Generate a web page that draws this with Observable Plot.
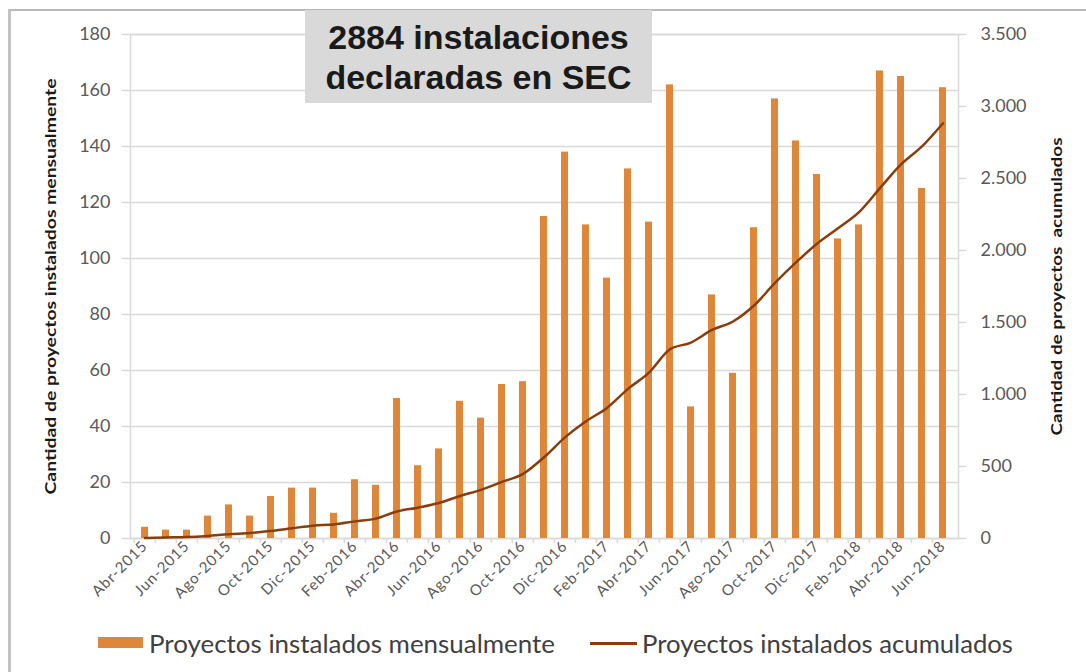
<!DOCTYPE html>
<html>
<head>
<meta charset="utf-8">
<script src="https://cdn.jsdelivr.net/npm/d3@7"></script>
<script src="https://cdn.jsdelivr.net/npm/@observablehq/plot@0.6"></script>
<style>
  html, body { margin: 0; padding: 0; background: #fff; }
  #wrap { position: relative; width: 1086px; height: 672px; overflow: hidden; background: #fff; }
  #border { position: absolute; left: 8px; top: 9px; right: -4px; bottom: -4px;
            border-left: 3px solid #c4c4c4; border-top: 2px solid #b8b8b8; }
  #chart { position: absolute; left: 0; top: 0; }
  #title { position: absolute; left: 305px; top: 10px; width: 347px; height: 93px;
           background: #d9d9d9; font-family: "Liberation Sans", Arial, sans-serif; font-weight: bold;
           font-size: 34px; line-height: 40px; color: #1a1a1a; text-align: center;
           display: flex; flex-direction: column; justify-content: center; }
  .leg { position: absolute; font-family: Lato, "Open Sans", sans-serif; font-size: 25px; color: #404040;
         white-space: nowrap; line-height: 30px; }
</style>
</head>
<body>
<div id="wrap">
  <div id="border"></div>
  <div id="chart"></div>
  <div id="title"><div>2884 instalaciones</div><div>declaradas en SEC</div></div>
  <div id="legend"></div>
</div>
<script>
// ---- data ----
const months = [
  "Abr-2015","May-2015","Jun-2015","Jul-2015","Ago-2015","Sep-2015","Oct-2015","Nov-2015","Dic-2015",
  "Ene-2016","Feb-2016","Mar-2016","Abr-2016","May-2016","Jun-2016","Jul-2016","Ago-2016","Sep-2016","Oct-2016","Nov-2016","Dic-2016",
  "Ene-2017","Feb-2017","Mar-2017","Abr-2017","May-2017","Jun-2017","Jul-2017","Ago-2017","Sep-2017","Oct-2017","Nov-2017","Dic-2017",
  "Ene-2018","Feb-2018","Mar-2018","Abr-2018","May-2018","Jun-2018"
];
const monthly = [
  4, 3, 3, 8, 12, 8, 15, 18, 18,
  9, 21, 19, 50, 26, 32, 49, 43, 55, 56, 115, 138,
  112, 93, 132, 113, 162, 47, 87, 59, 111, 157, 142, 130,
  107, 112, 167, 165, 125, 161
];
const cumulative = [
  4, 7, 10, 18, 30, 38, 53, 71, 89,
  98, 119, 138, 188, 214, 246, 295, 338, 393, 449, 564, 702,
  814, 907, 1039, 1152, 1314, 1361, 1448, 1507, 1618, 1775, 1917, 2047,
  2154, 2266, 2433, 2598, 2723, 2884
];
const leftTicks = [0, 20, 40, 60, 80, 100, 120, 140, 160, 180];
const rightTicks = [0, 500, 1000, 1500, 2000, 2500, 3000, 3500];
const xLabelMonths = months.filter((d, i) => i % 2 === 0);
const leftMax = 180, rightMax = 3500;
const seriesNames = ["Proyectos instalados mensualmente", "Proyectos instalados acumulados"];
const leftTitle = "Cantidad de proyectos instalados mensualmente";
const rightTitle = "Cantidad de proyectos\u00a0 acumulados";

const barColor = "#df8739";
const lineColor = "#8a3d0c";
const gridColor = "#d9d9d9";
const tickText = "#595959";

const data = months.map((m, i) => ({month: m, monthly: monthly[i], cum: cumulative[i]}));
const toLeft = v => v * leftMax / rightMax;
const fmt = v => d3.format(",")(Math.round(v)).replace(/,/g, ".");

const W = 1086, H = 615, mL = 130, mR = 128, mT = 34, mB = 77;
const step = (W - mL - mR) / months.length;

const chart = Plot.plot({
  width: W, height: H,
  marginLeft: mL, marginRight: mR, marginTop: mT, marginBottom: mB,
  style: {fontFamily: "Lato, 'Open Sans', sans-serif", background: "transparent", overflow: "visible"},
  x: {type: "band", domain: months, paddingInner: 0.66, paddingOuter: 0.33},
  y: {domain: [0, leftMax]},
  marks: [
    Plot.gridY(leftTicks, {stroke: gridColor, strokeOpacity: 1, strokeWidth: 1.5}),
    Plot.frame({stroke: gridColor, strokeWidth: 1.5}),
    Plot.axisY({ticks: leftTicks, tickSize: 8, tickPadding: 12, stroke: gridColor, strokeWidth: 1.5,
                fill: tickText, fontSize: 18, label: null}),
    Plot.axisY({anchor: "right", ticks: rightTicks.map(toLeft), tickFormat: d => fmt(d * rightMax / leftMax),
                tickSize: 7, tickPadding: 15, stroke: gridColor, strokeWidth: 1.5, fill: tickText, fontSize: 18,
                textAnchor: "start", label: null}),
    Plot.axisX({ticks: months, tickSize: 5, tickFormat: () => "", dx: -step / 2, stroke: gridColor,
                strokeWidth: 1.5, label: null}),
    Plot.axisX({ticks: xLabelMonths, tickSize: 0, tickPadding: 5, tickRotate: -45, fill: tickText,
                fontSize: 15, label: null}),
    Plot.barY(data, {x: "month", y: "monthly", fill: barColor}),
    Plot.line(data, {x: "month", y: d => toLeft(d.cum), stroke: lineColor, strokeWidth: 2.5, curve: "monotone-x"}),
    Plot.text([leftTitle], {frameAnchor: "left", textAnchor: "middle", dx: -80, rotate: -90, fontSize: 16,
                fontWeight: "bold", fill: "#1a1a1a", fontFamily: "Lato, sans-serif", className: "ttl-left"}),
    Plot.text([rightTitle], {frameAnchor: "right", textAnchor: "middle", dx: 98, rotate: -90, fontSize: 16,
                fontWeight: "bold", fill: "#1a1a1a", fontFamily: "Lato, sans-serif", className: "ttl-right"})
  ]
});
document.getElementById("chart").appendChild(chart);

// stretch axis titles to the reference's span
function fitText(cls, len) {
  chart.querySelectorAll(`.${cls} text`).forEach(t => {
    t.setAttribute("textLength", len);
    t.setAttribute("lengthAdjust", "spacingAndGlyphs");
  });
}
fitText("ttl-left", 416);
fitText("ttl-right", 298);

// widen the rotated month labels slightly (reference uses a wider-spaced face)
const labelSet = new Set(xLabelMonths);
chart.querySelectorAll("text").forEach(t => {
  if (labelSet.has(t.textContent)) t.style.letterSpacing = "0.9px";
});

// legend
const legend = document.getElementById("legend");
legend.innerHTML = `
  <div style="position:absolute;left:98px;top:637px;width:45px;height:11px;background:${barColor}"></div>
  <div class="leg" id="l1" style="left:149px;top:628px;">${seriesNames[0]}</div>
  <div style="position:absolute;left:590px;top:642px;width:47px;height:3px;background:${lineColor}"></div>
  <div class="leg" id="l2" style="left:642px;top:628px;">${seriesNames[1]}</div>`;
// fit legend text widths
[["l1", 406], ["l2", 371]].forEach(([id, w]) => {
  const el = document.getElementById(id);
  const cur = el.getBoundingClientRect().width;
  el.style.transformOrigin = "left center";
  el.style.transform = `scaleX(${w / cur})`;
});
</script>
</body>
</html>
